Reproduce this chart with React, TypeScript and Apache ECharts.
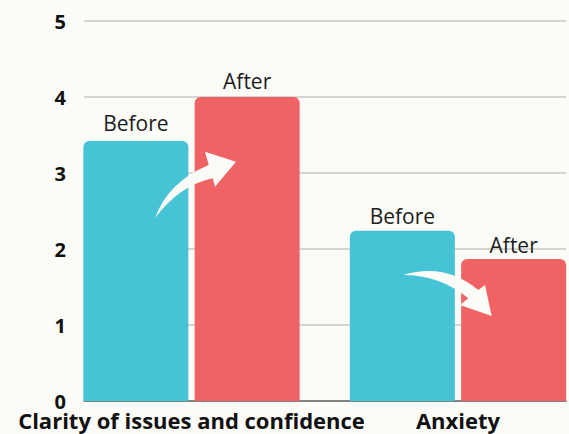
import React, { useEffect, useRef } from "react";
import * as echarts from "echarts";

const categories = ["Clarity of issues and confidence", "Anxiety"];
const beforeValues = [3.42, 2.24];
const afterValues = [4.0, 1.87];
const yTicks = [0, 1, 2, 3, 4, 5];

// label offsets above each bar (px), style only
const beforeLabelGap = [8, 4];
const afterLabelGap = [6, 3];

const arrowUp =
  "M155,218 Q168,182 208.7,165 L205,151.7 L236,161.7 L215,186.7 L212.7,178.3 Q180,185 155,218 Z";
const arrowDown =
  "M403,275 Q445,262 478.3,290 L485,285 L491.7,316 L460,305 L468.3,298.3 Q440,275 403,275 Z";

let registered = false;
function registerShapes() {
  if (registered) return;
  echarts.graphic.registerShape("arrowUp", echarts.graphic.extendPath(arrowUp, {}));
  echarts.graphic.registerShape("arrowDown", echarts.graphic.extendPath(arrowDown, {}));
  registered = true;
}

export default function App() {
  const ref = useRef<HTMLDivElement>(null);
  useEffect(() => {
    if (!ref.current) return;
    registerShapes();
    const chart = echarts.init(ref.current, null, { renderer: "svg" });
    const font = "'Open Sans', 'Noto Sans', sans-serif";
    const labelStyle = {
      show: true,
      position: "top" as const,
      distance: 6,
      fontFamily: font,
      fontSize: 21,
      color: "#1c1c1c",
      formatter: (p: any) => p.seriesName,
    };
    const withGap = (vals: number[], gaps: number[]) =>
      vals.map((v, i) => ({ value: v, label: { distance: gaps[i] } }));
    chart.setOption({
      animation: false,
      backgroundColor: "#fbfbf7",
      grid: [
        { left: 58.25, width: 533, top: 21, height: 380, outerBoundsMode: "none", containLabel: false },
        { left: 84, width: 482, top: 21, height: 380, outerBoundsMode: "none", containLabel: false },
      ],
      xAxis: [
        {
          type: "category",
          gridIndex: 0,
          data: categories,
          axisLine: { show: false },
          axisTick: { show: false },
          axisLabel: {
            fontFamily: font,
            fontWeight: "bold",
            fontSize: 22,
            lineHeight: 24,
            color: "#111",
            margin: 7,
            interval: 0,
            hideOverlap: false,
          },
        },
        {
          type: "value",
          gridIndex: 1,
          min: 0,
          max: 1,
          axisLine: { show: true, onZero: false, lineStyle: { color: "#666", width: 1.5 } },
          axisTick: { show: false },
          axisLabel: { show: false },
          splitLine: { show: false },
        },
      ],
      yAxis: [
        {
          type: "value",
          gridIndex: 0,
          min: 0,
          max: yTicks[yTicks.length - 1],
          interval: 1,
          axisLine: { show: false },
          axisTick: { show: false },
          axisLabel: { show: false },
          splitLine: { show: false },
        },
        {
          type: "value",
          gridIndex: 1,
          min: 0,
          max: yTicks[yTicks.length - 1],
          interval: 1,
          axisLine: { show: false },
          axisTick: { show: false },
          axisLabel: {
            fontFamily: font,
            fontWeight: "bold",
            fontSize: 20,
            lineHeight: 14,
            color: "#111",
            margin: 18,
          },
          splitLine: { show: true, lineStyle: { color: "#c8c8c6", width: 1.5 } },
        },
      ],
      series: [
        {
          name: "Before",
          type: "bar",
          xAxisIndex: 0,
          yAxisIndex: 0,
          data: withGap(beforeValues, beforeLabelGap),
          barWidth: 105,
          barGap: "6%",
          itemStyle: { color: "#46c3d5", borderRadius: [6, 6, 0, 0] },
          label: labelStyle,
          z: 3,
        },
        {
          name: "After",
          type: "bar",
          xAxisIndex: 0,
          yAxisIndex: 0,
          data: withGap(afterValues, afterLabelGap),
          barWidth: 105,
          barGap: "6%",
          itemStyle: { color: "#f06365", borderRadius: [6, 6, 0, 0] },
          label: labelStyle,
          z: 3,
        },
      ],
      graphic: [
        { type: "arrowUp", x: 0, y: 0, z: 10, style: { fill: "#fbfbf7" } },
        { type: "arrowDown", x: 0, y: 0, z: 10, style: { fill: "#fbfbf7" } },
      ],
    });
    return () => chart.dispose();
  }, []);
  return (
    <div
      ref={ref}
      style={{ position: "absolute", left: 0, top: 0, width: 569, height: 434 }}
    />
  );
}
